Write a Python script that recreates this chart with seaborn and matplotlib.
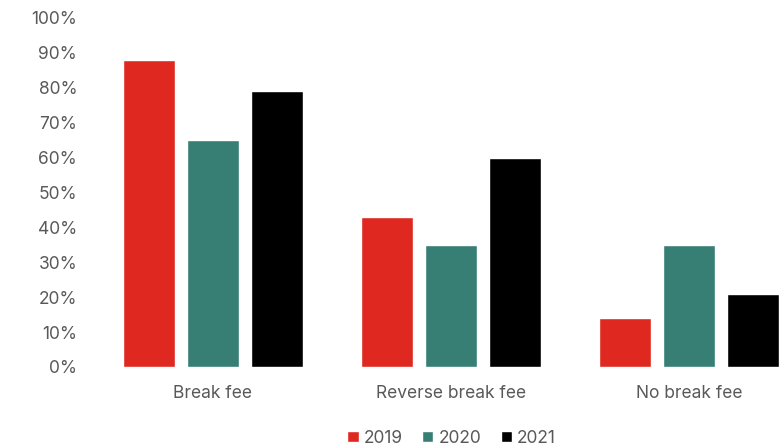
import pandas as pd
import matplotlib
matplotlib.use("Agg")
import matplotlib.pyplot as plt
import seaborn as sns
from matplotlib.ticker import PercentFormatter

# Data
categories = ["Break fee", "Reverse break fee", "No break fee"]
years = ["2019", "2020", "2021"]
values_2019 = [0.88, 0.43, 0.14]
values_2020 = [0.65, 0.35, 0.35]
values_2021 = [0.79, 0.60, 0.21]
colors = ["#DE2820", "#377E75", "#000000"]

df = pd.DataFrame({
    "category": categories * 3,
    "year": [y for y in years for _ in categories],
    "share": values_2019 + values_2020 + values_2021,
})

sns.set_theme(style="white")
plt.rcParams["font.family"] = ["Inter", "DejaVu Sans"]

fig = plt.figure(figsize=(7.82, 4.48), dpi=100)
ax = fig.add_axes([0.12, 0.181, 0.88, 0.779])

sns.barplot(data=df, x="category", y="share", hue="year", order=categories,
            hue_order=years, palette=colors, width=0.807, gap=0.19,
            saturation=1, ax=ax)

ax.set_ylim(0, 1)
ax.set_xlim(-0.5, 2.39)
ax.set_yticks([i / 10 for i in range(11)])
ax.yaxis.set_major_formatter(PercentFormatter(1.0, decimals=0))
ax.set_xlabel("")
ax.set_ylabel("")
ax.tick_params(axis="both", colors="#595959", labelsize=12.5, length=0)
ax.tick_params(axis="y", pad=12)
ax.tick_params(axis="x", pad=13)
sns.despine(ax=ax, left=True, bottom=True)

ax.legend(loc="upper center", bbox_to_anchor=(0.52, -0.135), ncol=3, frameon=False,
          fontsize=12.5, labelcolor="#595959", handlelength=0.65, handleheight=0.65,
          handletextpad=0.3, columnspacing=1.1)

fig.savefig("out.png", dpi=100)
